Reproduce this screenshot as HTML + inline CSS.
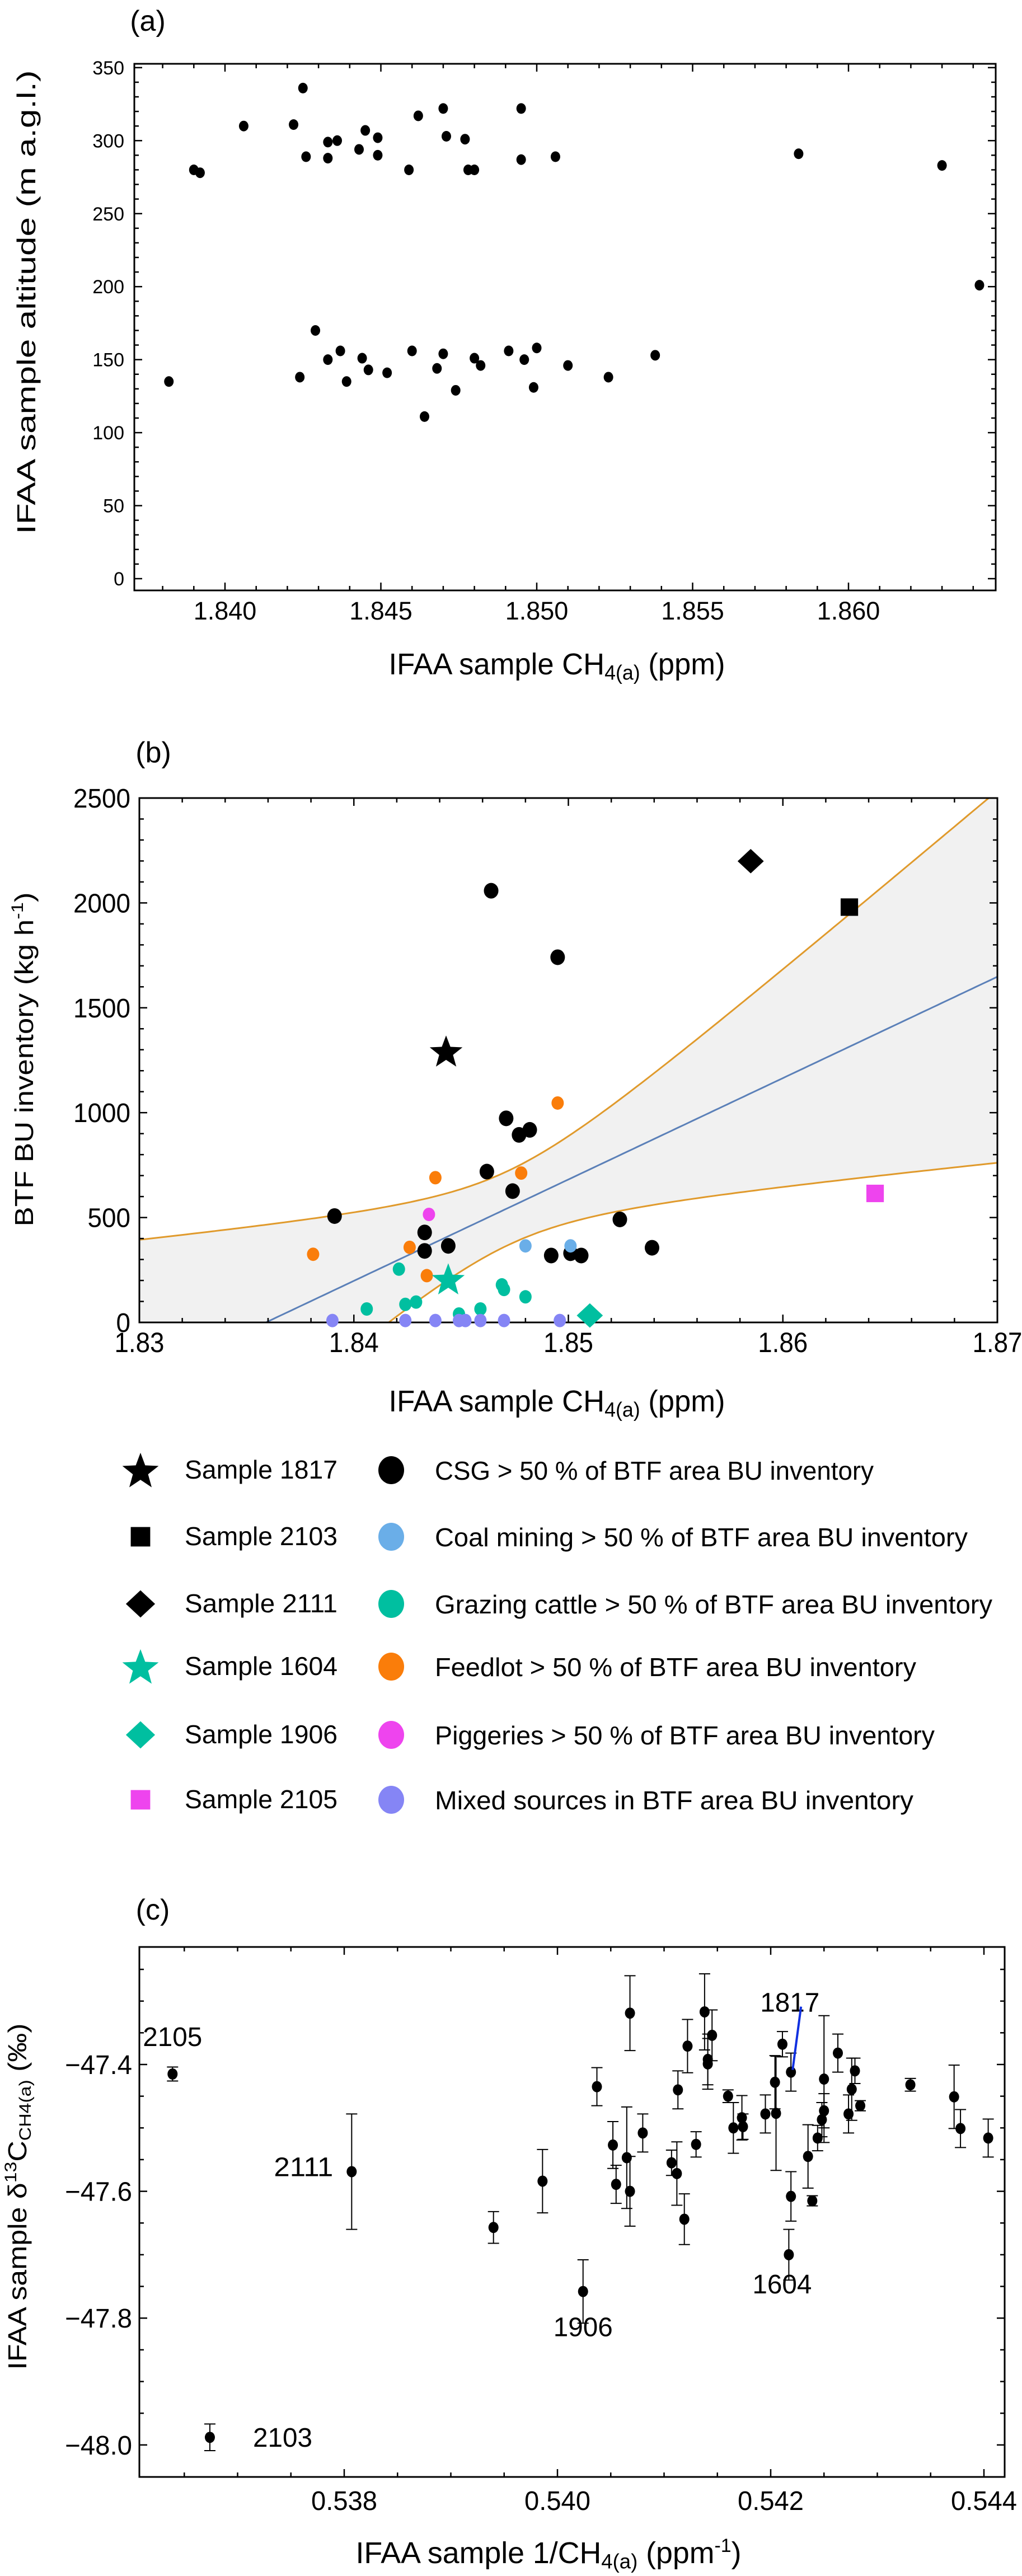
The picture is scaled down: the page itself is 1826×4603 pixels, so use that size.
<!DOCTYPE html>
<html><head><meta charset="utf-8"><style>
html,body{margin:0;padding:0;background:#fff;}
svg{display:block;}
text{font-family:"Liberation Sans",sans-serif;fill:#000;}
</style></head><body>
<svg id="fig" width="1826" height="4603" viewBox="0 0 1826 4603" xmlns="http://www.w3.org/2000/svg">
<defs><clipPath id="clipB"><rect x="249" y="1426" width="1533" height="937"/></clipPath></defs>
<text x="264" y="55" font-size="52" text-anchor="middle">(a)</text>
<text x="274" y="1362" font-size="52" text-anchor="middle">(b)</text>
<text x="273" y="3430" font-size="52" text-anchor="middle">(c)</text>
<g id="gA"></g>
<g id="gB"></g>
<g id="gLeg"></g>
<g id="gC"></g>
</svg>
<script>
// ---------- Panel (a) data ----------
const aCH4 = [1.8390,1.8392,1.8406,1.8422,1.8425,1.8426,1.8433,1.8433,1.8436,1.8443,1.8445,1.8449,1.8449,1.8459,1.8462,1.8470,1.8471,1.8477,1.8478,1.8480,1.8495,1.8495,1.8506,1.8584,1.8630,1.8642,
 1.8382,1.8424,1.8429,1.8433,1.8437,1.8439,1.8444,1.8446,1.8452,1.8460,1.8464,1.8468,1.8470,1.8474,1.8480,1.8482,1.8491,1.8496,1.8499,1.8500,1.8510,1.8523,1.8538];
const aAlt = [280,278,310,311,336,289,299,288,300,294,307,302,290,280,317,322,303,301,280,280,322,287,289,291,283,201,
 135,138,170,150,156,135,151,143,141,156,111,144,154,129,151,146,156,150,131,158,146,138,153];
const aYTicks = [0,50,100,150,200,250,300,350];
const aXTicks = [1.840,1.845,1.850,1.855,1.860];
const aXTickLabels = ["1.840","1.845","1.850","1.855","1.860"];

// ---------- Panel (b) data ----------
const csgX = [1.8391,1.8464,1.8495,1.8471,1.8477,1.8482,1.8462,1.8474,1.8433,1.8433,1.8444,1.8492,1.8501,1.8506,1.8524,1.8539];
const csgY = [507,2058,1741,973,894,918,719,626,429,341,365,319,330,319,491,356];
const coalX = [1.8480,1.8501];
const coalY = [365,365];
const grazX = [1.8421,1.8406,1.8424,1.8429,1.8449,1.8459,1.8469,1.8470,1.8480];
const grazY = [254,64,86,97,40,64,179,157,122];
const feedX = [1.8381,1.8426,1.8434,1.8438,1.8478,1.8495];
const feedY = [325,358,223,690,712,1046];
const pigX = [1.8435];
const pigY = [515];
const mixX = [1.8390,1.8424,1.8438,1.8449,1.8452,1.8459,1.8470,1.8496];
const mixY = [9,9,9,9,9,9,9,9];
const specialNames = ["1817","2103","2111","1604","1906","2105"];
const specialX = [1.8443,1.8631,1.8585,1.8444,1.8510,1.8643];
const specialY = [1294,1980,2199,208,33,615];
const specialShape = ["star","square","diamond","star","diamond","square"];
const specialColor = ["#000000","#000000","#000000","#00bfa0","#00bfa0","#ee44ee"];
const fitSlope = 48328, fitZeroX = 1.8359, bandA = 177, bandB = 38118, bandMeanX = 1.8472;
const bYTicks = [0,500,1000,1500,2000,2500];
const bXTicks = [1.83,1.84,1.85,1.86,1.87];
const bXTickLabels = ["1.83","1.84","1.85","1.86","1.87"];

// ---------- Panel (c) data ----------
const cX = [0.53639,0.53674,0.53807,0.53940,0.53986,0.54024,0.54037,0.54052,0.54055,0.54065,0.54068,0.54068,0.54080,0.54107,0.54112,0.54113,0.54119,0.54122,0.54130,0.54138,0.54141,0.54141,0.54145,0.54160,0.54165,0.54173,0.54174,0.54195,0.54204,0.54205,0.54211,0.54219,0.54217,0.54219,0.54235,0.54239,0.54244,0.54248,0.54250,0.54250,0.54263,0.54273,0.54276,0.54279,0.54284,0.54331,0.54372,0.54378,0.54404];
const cY = [-47.415,-47.988,-47.569,-47.657,-47.584,-47.758,-47.435,-47.527,-47.589,-47.547,-47.600,-47.319,-47.508,-47.555,-47.572,-47.440,-47.644,-47.371,-47.526,-47.317,-47.392,-47.399,-47.354,-47.450,-47.500,-47.484,-47.498,-47.478,-47.428,-47.477,-47.368,-47.412,-47.700,-47.608,-47.545,-47.615,-47.516,-47.487,-47.423,-47.473,-47.382,-47.478,-47.439,-47.410,-47.465,-47.432,-47.451,-47.501,-47.516];
const cErr = [0.011,0.021,0.091,0.025,0.050,0.050,0.030,0.037,0.030,0.080,0.055,0.059,0.030,0.020,0.050,0.030,0.040,0.042,0.020,0.060,0.040,0.040,0.040,0.010,0.040,0.035,0.020,0.030,0.042,0.090,0.020,0.030,0.040,0.039,0.050,0.008,0.020,0.027,0.100,0.027,0.030,0.030,0.049,0.020,0.008,0.010,0.050,0.030,0.030];
const cYTicks = [-48.0,-47.8,-47.6,-47.4];
const cYTickLabels = ["\u221248.0","\u221247.8","\u221247.6","\u221247.4"];
const cXTicks = [0.538,0.540,0.542,0.544];
const cXTickLabels = ["0.538","0.540","0.542","0.544"];
const cAnnNames = ["2105","2111","1906","1604","1817","2103"];
const cAnnX = [0.53639,0.53807,0.54024,0.54217,0.54219,0.53674];
const cAnnY = [-47.415,-47.569,-47.758,-47.700,-47.412,-47.988];

const NS = "http://www.w3.org/2000/svg";
function mk(parent, tag, attrs){ const e=document.createElementNS(NS,tag); for(const k in attrs) e.setAttribute(k,attrs[k]); parent.appendChild(e); return e; }
function starPath(cx,cy,R){ let d=""; for(let i=0;i<10;i++){ const r=i%2?R*0.42:R; const a=-Math.PI/2+i*Math.PI/5; d+=(i?"L":"M")+(cx+r*Math.cos(a)).toFixed(1)+" "+(cy+r*Math.sin(a)).toFixed(1);} return d+"Z"; }
function marker(g,shape,cx,cy,size,color){
  let e;
  if(shape==="star") e=mk(g,"path",{d:starPath(cx,cy+3,size*0.55),fill:color});
  else if(shape==="square") e=mk(g,"rect",{x:cx-size*0.3,y:cy-size*0.3,width:size*0.6,height:size*0.6,fill:color});
  else e=mk(g,"path",{d:`M${cx} ${cy-size*0.42}L${cx+size*0.45} ${cy}L${cx} ${cy+size*0.42}L${cx-size*0.45} ${cy}Z`,fill:color});
  return e;
}
function frame(g,L,R,T,B){ const f=mk(g,"rect",{x:L,y:T,width:R-L,height:B-T,fill:"none",stroke:"#000","stroke-width":3});

 }
function tickLine(g,x1,y1,x2,y2){ mk(g,"line",{x1,y1,x2,y2,stroke:"#000","stroke-width":2.5}); }
function title(g,txt,cx,cy,len,size,rot,sub,rest,name){
  const t=mk(g,"text",{x:cx,y:cy,"font-size":size,"text-anchor":"middle","textLength":len,"lengthAdjust":"spacingAndGlyphs"});
  if(rot) t.setAttribute("transform",`rotate(-90 ${cx} ${cy})`);
  
  
  t.appendChild(document.createTextNode(txt));
  if(sub){ const s=mk(t,"tspan",{"font-size":size*0.68,dy:size*0.18}); s.textContent=sub; const r=mk(t,"tspan",{dy:-size*0.18}); r.textContent=rest; }
  return t;
}

// ---------- Panel (a) ----------
(function(){
  const g=document.getElementById("gA");
  const L=240,R=1779,T=114,B=1055;
  const X=v=>402+(v-1.84)/0.005*278.5, Y=v=>1034-v*2.609;
  for(let v=0;v<=350;v+=10){ const y=Y(v), big=v%50===0?14:8; tickLine(g,L,y,L+big,y); tickLine(g,R,y,R-big,y); }
  for(let k=0;k<=27;k++){ const v=1.837+k*0.001; const x=X(v); if(x<L+2||x>R-2) continue; const big=Math.round(v*1000)%5===0?14:8; tickLine(g,x,B,x,B-big); tickLine(g,x,T,x,T+big); }
  frame(g,L,R,T,B);
  aYTicks.forEach(v=>{ const t=mk(g,"text",{x:222,y:Y(v)+12,"font-size":34,"text-anchor":"end"}); t.textContent=String(v);
    
     });
  aXTicks.forEach((v,i)=>{ const t=mk(g,"text",{x:X(v),y:1107,"font-size":45,"text-anchor":"middle"}); t.textContent=aXTickLabels[i];
    
     });
  aCH4.forEach((v,i)=>{ const c=mk(g,"ellipse",{cx:X(v),cy:Y(aAlt[i]),rx:8.5,ry:9.5,fill:"#000"});
    
     });
  title(g,"IFAA sample altitude (m a.g.l.)",63,540,829,46,true,null,null,"y-axis-title-a").setAttribute("font-family","DejaVu Sans");
  title(g,"IFAA sample CH",995,1205,601,54,false,"4(a)"," (ppm)","x-axis-title-a");
})();

// ---------- Panel (b) ----------
(function(){
  const g=document.getElementById("gB");
  const L=249,R=1782,T=1426,B=2363;
  const X=v=>249+(v-1.83)/0.04*1533, Y=v=>2363-v*0.3748;
  const cg=mk(g,"g",{"clip-path":"url(#clipB)"});
  let up=[],lo=[],mid=[];
  for(let k=0;k<=200;k++){ const x=1.83+k*0.0002; const c=fitSlope*(x-fitZeroX); const h=Math.sqrt(bandA*bandA+bandB*bandB*(x-bandMeanX)*(x-bandMeanX));
    up.push([X(x),Y(c+h)]); lo.push([X(x),Y(c-h)]); mid.push([X(x),Y(c)]); }
  const P=a=>a.map((p,i)=>(i?"L":"M")+p[0].toFixed(1)+" "+p[1].toFixed(1)).join("");
  const band=mk(cg,"path",{d:P(up)+lo.slice().reverse().map(p=>"L"+p[0].toFixed(1)+" "+p[1].toFixed(1)).join("")+"Z",fill:"#f1f1f1"});
  
  
  const u=mk(cg,"path",{d:P(up),fill:"none",stroke:"#e09a2c","stroke-width":3});
  
  
  const l=mk(cg,"path",{d:P(lo),fill:"none",stroke:"#e09a2c","stroke-width":3});
  
  
  const m=mk(cg,"path",{d:P(mid),fill:"none",stroke:"#5b80b8","stroke-width":3});
  
  
  for(let v=0;v<=2500;v+=100){ const y=Y(v), big=v%500===0?14:8; tickLine(g,L,y,L+big,y); tickLine(g,R,y,R-big,y); }
  for(let k=0;k<=20;k++){ const v=1.83+k*0.002; const x=X(v); const big=k%5===0?14:8; tickLine(g,x,B,x,B-big); tickLine(g,x,T,x,T+big); }
  frame(g,L,R,T,B);
  bYTicks.forEach(v=>{ const t=mk(g,"text",{x:233,y:Y(v)+17,"font-size":48,"text-anchor":"end","textLength":String(v).length*25.5,"lengthAdjust":"spacingAndGlyphs"}); t.textContent=String(v);
    
     });
  bXTicks.forEach((v,i)=>{ const t=mk(g,"text",{x:X(v),y:2416,"font-size":50,"text-anchor":"middle","textLength":89,"lengthAdjust":"spacingAndGlyphs"}); t.textContent=bXTickLabels[i];
    
     });
  const groups=[[csgX,csgY,"#000000","csg-point",14],[coalX,coalY,"#6aaee8","coal-point",12],[grazX,grazY,"#00bfa0","grazing-point",12],[feedX,feedY,"#fa7d0a","feedlot-point",12],[pigX,pigY,"#ee44ee","piggery-point",12],[mixX,mixY,"#8585f5","mixed-point",12]];
  groups.forEach(gr=>{ gr[0].forEach((v,i)=>{ const c=mk(g,"ellipse",{cx:X(v),cy:Y(gr[1][i]),rx:gr[4]-1,ry:gr[4],fill:gr[2]});
    
     }); });
  specialX.forEach((v,i)=>{ const e=marker(g,specialShape[i],X(v),Y(specialY[i]),specialShape[i]==="star"?56:(specialShape[i]==="square"?52:52),specialColor[i]);
    
     });
  const yt=title(g,"BTF BU inventory (kg h",59,1893,597,46,true,null,null,"y-axis-title-b");
  yt.setAttribute("font-family","DejaVu Sans");
  const sp=mk(yt,"tspan",{"font-size":30,dy:-18}); sp.textContent="-1"; const sp2=mk(yt,"tspan",{dy:18}); sp2.textContent=")";
  title(g,"IFAA sample CH",995,2522,601,54,false,"4(a)"," (ppm)","x-axis-title-b");
})();

// ---------- Legend ----------
(function(){
  const g=document.getElementById("gLeg");
  const rows=[2627,2746,2866,2978,3100,3216];
  const leftLabels=["Sample 1817","Sample 2103","Sample 2111","Sample 1604","Sample 1906","Sample 2105"];
  const rightLabels=["CSG > 50 % of BTF area BU inventory","Coal mining > 50 % of BTF area BU inventory","Grazing cattle > 50 % of BTF area BU inventory","Feedlot > 50 % of BTF area BU inventory","Piggeries > 50 % of BTF area BU inventory","Mixed sources in BTF area BU inventory"];
  const rightEnds=[1561,1729,1773,1637,1670,1632];
  const circColors=["#000000","#6aaee8","#00bfa0","#fa7d0a","#ee44ee","#8585f5"];
  rows.forEach((y,i)=>{
    const e=marker(g,specialShape[i],251,y,specialShape[i]==="star"?62:58,specialColor[i]);
    
    
    const t=mk(g,"text",{x:330,y:y+15,"font-size":46,"textLength":273,"lengthAdjust":"spacingAndGlyphs"}); t.textContent=leftLabels[i];
    
    
    const c=mk(g,"ellipse",{cx:699,cy:y,rx:23,ry:25,fill:circColors[i]});
    
    
    const t2=mk(g,"text",{x:777,y:y+17,"font-size":46,"textLength":rightEnds[i]-777,"lengthAdjust":"spacingAndGlyphs"}); t2.textContent=rightLabels[i];
    
    
  });
})();

// ---------- Panel (c) ----------
(function(){
  const g=document.getElementById("gC");
  const L=249,R=1795,T=3479,B=4426;
  const X=v=>615+(v-0.538)/0.006*1143, Y=v=>3689+(-47.4-v)/0.1*113.3;
  for(let k=0;k<=20;k++){ const v=-48.1+k*0.05; const y=Y(v); if(y<T+2||y>B-2) continue; const big=(Math.round(v*100)%20===0)?14:8; tickLine(g,L,y,L+big,y); tickLine(g,R,y,R-big,y); }
  for(let k=0;k<=20;k++){ const v=0.5360+k*0.0005; const x=X(v); if(x<L+2||x>R-2) continue; const big=(Math.round(v*10000)%20===0)?14:8; tickLine(g,x,B,x,B-big); tickLine(g,x,T,x,T+big); }
  frame(g,L,R,T,B);
  cYTicks.forEach((v,i)=>{ const t=mk(g,"text",{x:236,y:Y(v)+17,"font-size":48,"text-anchor":"end","textLength":120,"lengthAdjust":"spacingAndGlyphs"}); t.textContent=cYTickLabels[i];
    
     });
  cXTicks.forEach((v,i)=>{ const t=mk(g,"text",{x:X(v),y:4485,"font-size":48,"text-anchor":"middle","textLength":118,"lengthAdjust":"spacingAndGlyphs"}); t.textContent=cXTickLabels[i];
    
     });
  cX.forEach((v,i)=>{ const x=X(v), y=Y(cY[i]), y1=Y(cY[i]+cErr[i]), y2=Y(cY[i]-cErr[i]);
    const eb=mk(g,"path",{d:`M${x} ${y1}L${x} ${y2}M${x-10} ${y1}L${x+10} ${y1}M${x-10} ${y2}L${x+10} ${y2}`,stroke:"#000","stroke-width":2,fill:"none"});
    
    
    const c=mk(g,"ellipse",{cx:x,cy:y,rx:9,ry:10,fill:"#000"});
    
     });
  const offs=[[0,-50],[-86,8],[0,80],[-12,69],[-2,-108],[130,17]];
  cAnnNames.forEach((n,i)=>{ const t=mk(g,"text",{x:X(cAnnX[i])+offs[i][0],y:Y(cAnnY[i])+offs[i][1],"font-size":48,"text-anchor":"middle","textLength":106,"lengthAdjust":"spacingAndGlyphs"}); t.textContent=n;
    
     });
  const bl=mk(g,"line",{x1:X(0.54219)+3,y1:Y(-47.412)-4,x2:X(0.54219)+18,y2:Y(-47.412)-117,stroke:"#1030e0","stroke-width":4});
  
  
  const yt=mk(g,"text",{x:47,y:3925,"font-size":46,"text-anchor":"middle","textLength":619,"lengthAdjust":"spacingAndGlyphs","transform":"rotate(-90 47 3925)","font-family":"DejaVu Sans"});
  
  
  yt.appendChild(document.createTextNode("IFAA sample \u03B4"));
  const s1=mk(yt,"tspan",{"font-size":30,dy:-18}); s1.textContent="13";
  const s2=mk(yt,"tspan",{dy:18}); s2.textContent="C";
  const s3=mk(yt,"tspan",{"font-size":30,dy:8}); s3.textContent="CH4(a)";
  const s4=mk(yt,"tspan",{dy:-8}); s4.textContent=" (\u2030)";
  const xt=title(g,"IFAA sample 1/CH",980,4580,689,54,false,"4(a)"," (ppm","x-axis-title-c");
  const s5=mk(xt,"tspan",{"font-size":34,dy:-20}); s5.textContent="-1"; const s6=mk(xt,"tspan",{dy:20}); s6.textContent=")";
})();
</script>
</body></html>
